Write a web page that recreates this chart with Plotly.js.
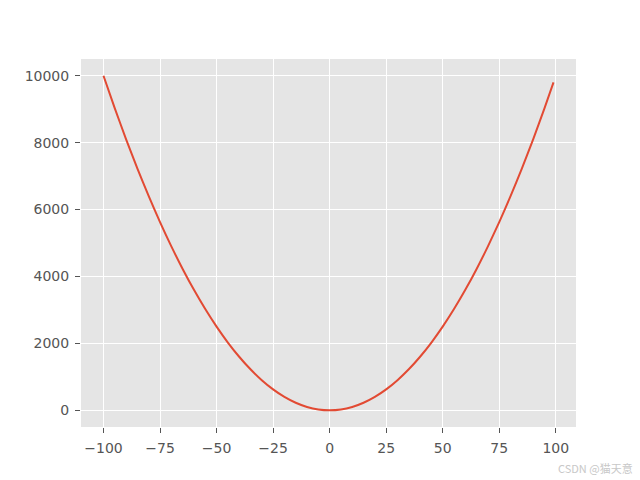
<!DOCTYPE html>
<html>
<head>
<meta charset="utf-8">
<script src="https://cdn.plot.ly/plotly-3.0.1.min.js"></script>
<style>html,body{margin:0;padding:0;background:#fff;}#chart{width:640px;height:480px;}</style>
</head>
<body>
<div id="chart"></div>
<script>
const xValues = [-100,-95,-90,-85,-80,-75,-70,-65,-60,-55,-50,-45,-40,-35,-30,-25,-20,-15,-10,-5,0,5,10,15,20,25,30,35,40,45,50,55,60,65,70,75,80,85,90,95,99];
const yValues = [10000,9025,8100,7225,6400,5625,4900,4225,3600,3025,2500,2025,1600,1225,900,625,400,225,100,25,0,25,100,225,400,625,900,1225,1600,2025,2500,3025,3600,4225,4900,5625,6400,7225,8100,9025,9801];
const xTicks = [-100,-75,-50,-25,0,25,50,75,100];
const yTicks = [0,2000,4000,6000,8000,10000];
const watermark = 'CSDN @猫天意';

const trace = {
  x: xValues, y: yValues, type: 'scatter', mode: 'lines',
  line: {color: '#E24A33', width: 2, shape: 'spline', smoothing: 0.6},
  hoverinfo: 'skip'
};
const axisCommon = {
  showgrid: true, gridcolor: '#FFFFFF', gridwidth: 1, zeroline: false,
  showline: false, ticks: 'outside', ticklen: 5, tickwidth: 1, tickcolor: '#555555',
  ticklabelstandoff: 3,
  tickfont: {family: 'DejaVu Sans', size: 14, color: '#555555'}
};
const layout = {
  width: 640, height: 480,
  paper_bgcolor: '#FFFFFF', plot_bgcolor: '#E5E5E5',
  margin: {l: 81, r: 64, t: 59, b: 53},
  showlegend: false,
  xaxis: Object.assign({}, axisCommon, {range: [-109.95, 108.95], tickvals: xTicks, ticktext: xTicks.map(v => v < 0 ? '\u2212' + Math.abs(v) : String(v))}),
  yaxis: Object.assign({}, axisCommon, {range: [-500, 10500], tickvals: yTicks, ticktext: yTicks.map(String)}),
  annotations: [{
    text: watermark, xref: 'paper', yref: 'paper', x: 1.12, y: -0.111,
    xanchor: 'right', yanchor: 'middle', showarrow: false,
    font: {family: 'Noto Sans CJK SC', size: 11, color: '#C8C8C8'}
  }]
};
Plotly.newPlot('chart', [trace], layout, {staticPlot: true, displayModeBar: false});
</script>
</body>
</html>
